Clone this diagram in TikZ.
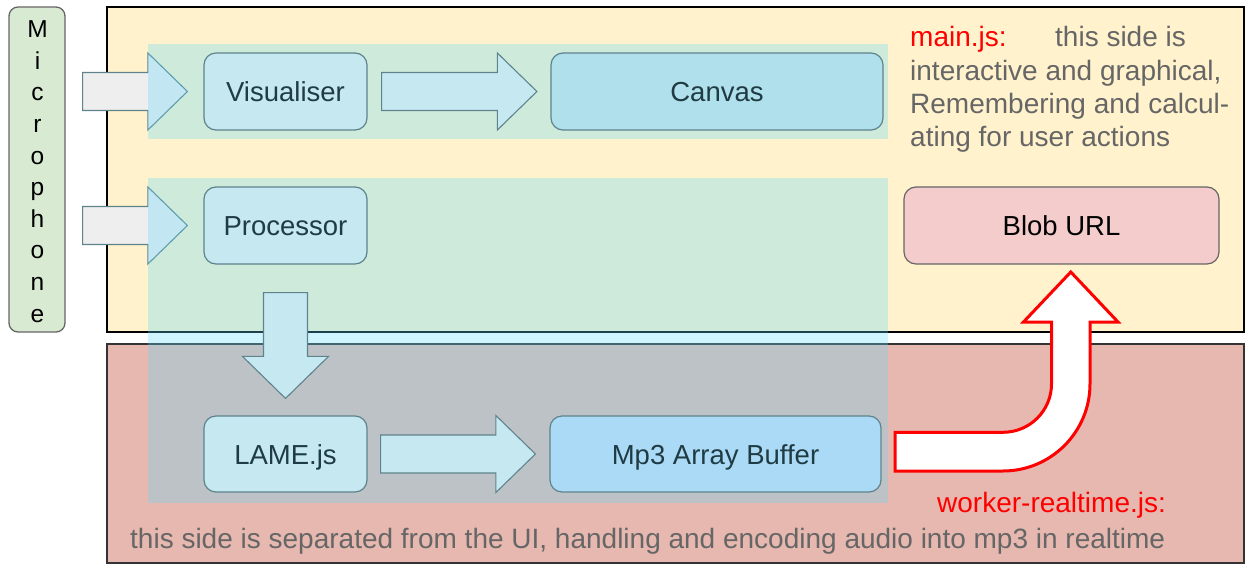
\documentclass[tikz,border=0pt]{standalone}
\usepackage{fontspec}
\setmainfont{Liberation Sans}
\usetikzlibrary{calc}
\definecolor{yellowbg}{HTML}{FFF2CC}
\definecolor{redbg}{HTML}{E6B8AF}
\definecolor{bandcol}{RGB}{95,218,253}
\definecolor{micfill}{HTML}{D9EAD3}
\definecolor{boxfill}{RGB}{197,232,241}
\definecolor{canvasfill}{RGB}{176,224,235}
\definecolor{mpfill}{RGB}{171,218,246}
\definecolor{boxborder}{HTML}{5F838C}
\definecolor{boxtext}{HTML}{1F3B44}
\definecolor{blobfill}{HTML}{F4CCCC}
\definecolor{graytext}{HTML}{666666}
\definecolor{grayarrow}{HTML}{EEEEEE}
\pgfdeclarelayer{bg}
\pgfdeclarelayer{bandlayer}
\pgfsetlayers{bg,bandlayer,main}
\newcommand\hblock[3]{%
  \draw[#1] let \p1=(#2), \p2=(#3) in
    (\x1,\y1+19pt) -- (\x2-39.5pt,\y1+19pt) -- (\x2-39.5pt,\y1+38.5pt) -- (\x2,\y1)
    -- (\x2-39.5pt,\y1-38.5pt) -- (\x2-39.5pt,\y1-19pt) -- (\x1,\y1-19pt) -- cycle;}
\begin{document}
\begin{tikzpicture}[x=1pt,y=-1pt,
  box/.style={draw=boxborder, line width=1.2pt, rounded corners=12pt, inner sep=0pt,
    text=boxtext, font=\fontsize{27.5}{33}\selectfont, text height=20pt, text depth=0pt,
    minimum height=77pt},
  area/.style={line width=1.4pt, inner sep=0pt, minimum width=1137pt},
  cyanarrow/.style={draw=boxborder, line width=1.1pt, fill=boxfill},
  grayblock/.style={draw=boxborder, line width=1.1pt, fill=grayarrow},
  desc/.style={anchor=base west, inner sep=0pt, text=graytext, font=\fontsize{28}{33}\selectfont},
  redlabel/.style={anchor=base west, inner sep=0pt, text=red, font=\fontsize{28}{33}\selectfont},
  micletter/.style={anchor=base, inner sep=0pt, text=black, font=\fontsize{24.5}{28}\selectfont}]
\useasboundingbox (0,0) rectangle (1251,572);

% nodes
\node[draw=black!60, line width=1.3pt, fill=micfill, rounded corners=9pt, inner sep=0pt,
  minimum width=56pt, minimum height=325pt] (mic) at (37,169.5) {};
\foreach \l [count=\i from 0] in {M,i,c,r,o,p,h,o,n,e}
  \node[micletter] (micl\i) at (37.5,{37.7+31.6*\i}) {\l};

\node[box, fill=boxfill, minimum width=163pt] (vis) at (285.5,91.5) {Visualiser};
\node[box, fill=canvasfill, minimum width=332pt] (canvas) at (717,91.5) {Canvas};
\node[box, fill=boxfill, minimum width=163pt] (proc) at (285.5,225.5) {Processor};
\node[box, fill=boxfill, minimum width=163pt, minimum height=76pt] (lame) at (285.5,454) {LAME.js};
\node[box, fill=mpfill, minimum width=331pt, minimum height=76pt] (mp3) at (715.5,454) {Mp3 Array Buffer};
\node[box, fill=blobfill, draw=black!60, text=black, minimum width=315pt] (blob) at (1061.5,225.5) {Blob URL};

% connector end points
\coordinate (g1s) at ($(mic.east |- vis.west)+(17,0)$);
\coordinate (g1t) at ($(vis.west)+(-16,0)$);
\coordinate (g2s) at ($(mic.east |- proc.west)+(17,0)$);
\coordinate (g2t) at ($(proc.west)+(-16,0)$);
\coordinate (c1s) at ($(vis.east)+(14,0)$);
\coordinate (c1t) at ($(canvas.west)+(-13.5,0)$);
\coordinate (c2s) at ($(lame.east)+(13,0)$);
\coordinate (c2t) at ($(mp3.west)+(-14,0)$);
\coordinate (vas) at ($(proc.south)+(0,28)$);
\coordinate (vat) at ($(lame.north)+(0,-17)$);

\begin{pgfonlayer}{bg}
  \node[area, draw=black, fill=yellowbg, minimum height=325pt] (mainbox) at (675.5,169.5) {};
  \node[area, draw=black!80, fill=redbg, minimum height=219pt] (workerbox) at (675.5,453.5) {};
  \hblock{grayblock}{g1s}{g1t}
  \hblock{grayblock}{g2s}{g2t}
\end{pgfonlayer}

\begin{pgfonlayer}{bandlayer}
  \fill[bandcol, fill opacity=0.3] (148,44) rectangle (888,139);
  \fill[bandcol, fill opacity=0.3] (148,178) rectangle (888,503);
\end{pgfonlayer}

% cyan block arrows
\hblock{cyanarrow}{c1s}{c1t}
\hblock{cyanarrow}{c2s}{c2t}
\draw[cyanarrow] let \p1=(vas), \p2=(vat) in
  (\x1-22pt,\y1) -- (\x1-22pt,\y2+42pt) -- (\x1-43pt,\y2+42pt) -- (\x2,\y2)
  -- (\x1+43pt,\y2+42pt) -- (\x1+22pt,\y2+42pt) -- (\x1+22pt,\y1) -- cycle;

% red bent arrow from Mp3 buffer to Blob URL
\coordinate (rs) at (895,451.6);
\coordinate (rt) at (1070.8,272);
\draw[red, line width=3pt, fill=white, line join=miter]
  (895,432.3) -- (1003,432.3)
  .. controls (1029.7,432.3) and (1051.5,410.7) .. (1051.5,384)
  -- (1051.5,322) -- (1023.5,322) -- (rt) -- (1118,322) -- (1090,322) -- (1090,384)
  .. controls (1090,432) and (1051,471) .. (1003,471)
  -- (895,471) -- cycle;

% texts
\node[redlabel] (mainjs) at (910,47) {main.js:};
\node[desc] (t1) at (1055,47) {this side is};
\node[desc] (t2) at (910,80.2) {interactive and graphical,};
\node[desc] (t3) at (910,113.4) {Remembering and calcul-};
\node[desc] (t4) at (910,146.6) {ating for user actions};
\node[redlabel] (workerjs) at (937,512) {worker-realtime.js:};
\node[desc] (t5) at (130,548) {this side is separated from the UI, handling and encoding audio into mp3 in realtime};
\end{tikzpicture}
\end{document}
